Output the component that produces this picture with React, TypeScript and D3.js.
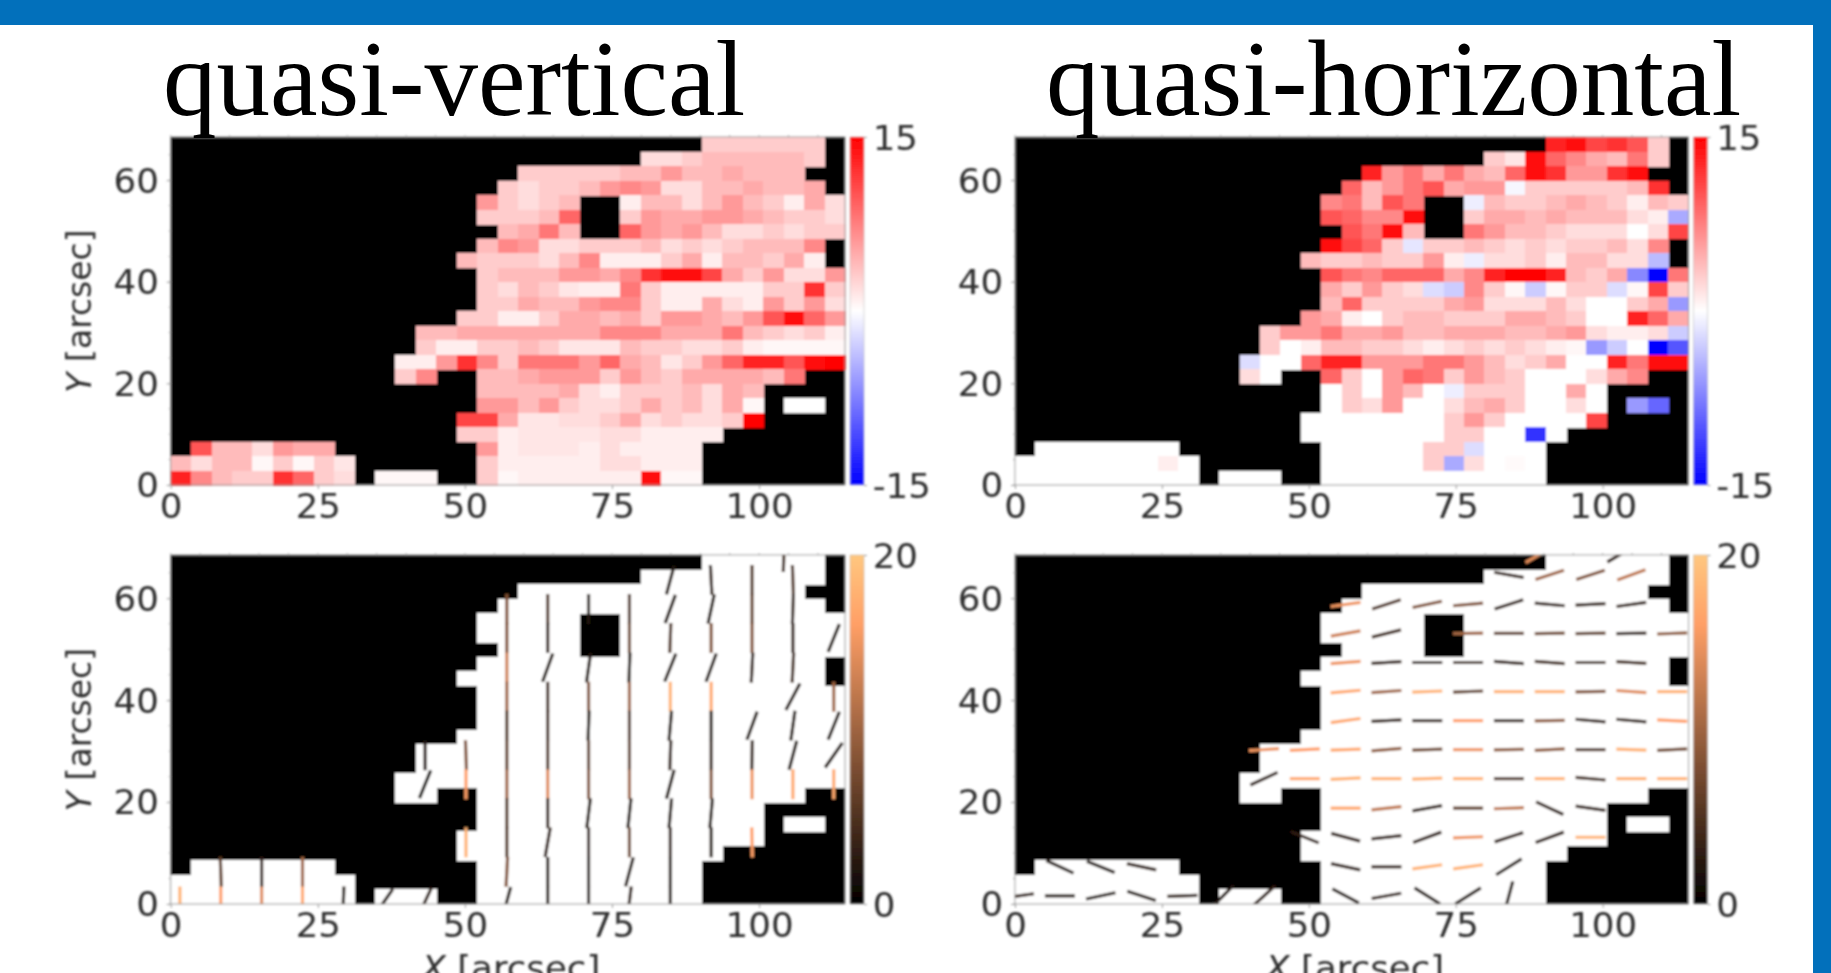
import React, { useRef, useEffect } from 'react';
import * as d3 from 'd3';

const xTicks = [0, 25, 50, 75, 100];
const yTicks = [0, 20, 40, 60];
const xMax = 114.6;
const yMax = 68.5;
const nCols = 33;
const nRows = 24;

// each row (top to bottom) is a list of [first column, values] runs, anything else is masked
const verticalField: [number, number[]][][] = [
  [[26, [3, 3, 3, 3, 3, 3]]],
  [[23, [2, 2, 3, 4, 4, 4, 4, 4, 3]]],
  [[17, [3, 3, 3, 3, 3, 4, 4, 6, 4, 4, 5, 4, 4, 4]]],
  [[16, [3, 2, 3, 3, 4, 6, 7, 6, 2, 2, 4, 4, 5, 4, 4, 5]]],
  [[15, [6, 3, 2, 3, 4]], [22, [1, 4, 4, 2, 4, 6, 4, 3, 1, 5, 2]]],
  [[15, [3, 3, 3, 4, 9]], [22, [3, 6, 5, 5, 6, 6, 5, 4, 3, 3, 2]]],
  [[16, [4, 5, 8, 4]], [22, [9, 6, 5, 6, 4, 2, 2, 3, 2, 3, 3]]],
  [[15, [4, 7, 6, 2, 2, 3, 3, 3, 4, 2, 3, 2, 3, 4, 4, 4, 7]]],
  [[14, [4, 3, 3, 3, 2, 4, 7, 1, 1, 1, 3, 5, 1, 4, 4, 3, 5, 1]]],
  [[15, [3, 4, 4, 4, 6, 6, 5, 7, 12, 14, 14, 11, 5, 3, 6, 2, 2, 6]]],
  [[15, [3, 2, 4, 3, 1.5, 1, 1, 8, 3, 1, 1, 1, 1, 1, 3, 3, 12, 3]]],
  [[15, [3, 3, 5, 4, 4, 6, 7, 7, 3, 1, 1, 5, 2, 1, 6, 3, 6, 2]]],
  [[14, [3, 3, 1, 1, 3, 5, 5, 4, 5, 3, 6, 6, 5, 4, 6, 10, 14, 9, 6]]],
  [[12, [4, 4, 5, 5, 5, 5, 5, 5, 5, 7, 7, 7, 5, 5, 5, 8, 4, 3, 2, 3, 1]]],
  [[12, [3, 1, 1, 3, 3, 4, 3, 1.5, 1.5, 1.5, 4, 3, 3, 2, 2, 3, 1, 0.5, 0.5, 0.5, 0.5]]],
  [[11, [1, 1, 6, 12, 7, 3, 8, 8, 8, 6, 9, 5, 4, 1.5, 3, 6, 9, 13, 13, 10, 14, 15]]],
  [[11, [3, 7]], [15, [4, 4, 5, 6, 6, 6, 3, 6, 4, 3, 5, 5, 5, 5, 4, 8]]],
  [[15, [4, 4, 4, 4, 5, 2, 1, 3, 3, 3, 4, 2, 5, 4]]],
  [[15, [6, 6, 4, 6, 3, 2, 2, 3, 5, 3, 4, 2, 5, 0.5]], [30, [0, 0]]],
  [[14, [11, 11, 5, 1.5, 1.5, 2, 2, 3, 5, 2, 3, 2, 2, 3, 15]]],
  [[14, [3, 3, 1, 1.5, 1.5, 1.5, 1.5, 2, 2, 1, 1, 1, 1]]],
  [[1, [10, 4, 4, 2, 6, 5, 5]], [15, [6, 1, 1.5, 1.5, 1.5, 1, 2, 1, 1, 1, 1]]],
  [[0, [4, 2, 4, 4, 0.5, 3, 0.5, 3, 1.5]], [15, [3, 1, 1, 1, 1, 1, 2, 2, 1, 1, 1]]],
  [[0, [13, 7, 4, 3, 3, 12, 9, 3, 2]], [10, [0.5, 0.5, 0.5]], [15, [3, 0.5, 1, 1, 1, 1, 1, 1, 14, 0.5, 0.5]]],
];

const horizontalField: [number, number[]][][] = [
  [[26, [13, 14, 11, 12, 10, 3]]],
  [[23, [3, 1.5, 14, 9, 7, 5, 4, 8, 3]]],
  [[17, [13, 6, 8, 5, 8, 5, 4, 9, 14, 12, 6, 6, 12, 14]]],
  [[16, [9, 4, 6, 8, 10, 5, 6, 6, -0.5, 3, 3, 3, 3, 3, 4, 12]]],
  [[15, [7, 8, 4, 10, 8]], [22, [-1, 4, 3, 3, 4, 5, 4, 3, 1, 4, 3]]],
  [[15, [10, 9, 7, 7, 14]], [22, [3, 5, 5, 4, 5, 4, 4, 4, 2, 1, -5]]],
  [[16, [10, 8, 14, 4]], [22, [8, 6, 4, 4, 3, 2, 2, 2, 0, 2, 11]]],
  [[15, [14, 11, 9, 3, -1.5, 3, 3, 4, 3, 2, 3, 2, 3, 3, 4, 2, 7]]],
  [[14, [4, 3, 3, 4, 3, 3, 6, 1, -1, 2, 2, 3, 1, 4, 4, 2, 2, -4]]],
  [[15, [10, 8, 7, 9, 9, 9, 5, 7, 13, 15, 15, 13, 4, 3, 5, -7, -15, 8]]],
  [[15, [5, 3, 6, 3, 2, -2, -3, 7, 3, 0.5, -3, 0.5, 3, 3, -2, 0.5, 11, 3]]],
  [[15, [4, 9, 3, 3, 3, 3, 5, 6, 2, 2, 2, 4, 2, 0, 0, 3, 5, -6]]],
  [[14, [6, 5, 1, 0, 3, 4, 4, 3, 3, 3, 5, 5, 4, 3, 0, 0, 13, 9, 5]]],
  [[12, [3, 6, 6, 8, 5, 5, 6, 4, 4, 5, 5, 5, 4, 4, 5, 6, 2, 1, 1, 2, -3]]],
  [[12, [3, 0, 1, 4, 4, 3, 3, 2, 1, 2, 3, 2, 3, 2, 1, 0.5, -6, -3, 0, -15, -10]]],
  [[11, [-2, 0, 0, 9, 13, 13, 6, 6, 6, 8, 8, 6, 4, 2, 3, 5, 0, 0, 13, 8, 14, 14]]],
  [[11, [2, 0]], [15, [9, 3, 0, 6, 9, 8, 3, 6, 4, 3, 0, 0, 0, 2, 5, 7]]],
  [[15, [0, 3, 0, 6, 4, 0, -1, 3, 3, 3, 0, 0, 5, 0]]],
  [[15, [0, 3, 2, 6, 0, 0, 2, 4, 5, 3, 0, 0, 2, 0]], [30, [-6, -9]]],
  [[14, [0, 0, 0, 0, 0, 0, 0, 3, 6, 3, 0, 0, 0, 0, 11]]],
  [[14, [0, 0, 0, 0, 0, 0, 0, 3, 3, 0, 0, -12, 0]]],
  [[1, [0, 0, 0, 0, 0, 0, 0]], [15, [0, 0, 0, 0, 0, 3, 3, -2, 0, 0, 0]]],
  [[0, [0, 0, 0, 0, 0, 0, 0, 1, 0]], [15, [0, 0, 0, 0, 0, 3, -5, 2, 0, 0.3, 0]]],
  [[0, [0, 0, 0, 0, 0, 0, 0, 0, 0]], [10, [0, 0, 0]], [15, [0, 0, 0, 0, 0, 0, 0, 0, 0, 0, 0]]],
];

// y of the vector rows, arcsec
const verticalRowY = [63.6, 57.9, 52.2, 46.4, 40.7, 35, 29.2, 23.5, 17.8, 12.1, 6.3, 0.5];
const horizontalRowY = [64.6, 58.8, 53.1, 47.4, 41.7, 36, 30.3, 24.6, 18.8, 13.1, 7.3, 1.6];

// [column slot, row slot, tilt from vertical in degrees, magnitude]
const verticalVectors: number[][] = [
  [12, 0, 15, 2], [13, 0, -3, 3], [14, 0, 0, 5], [15, 0, -2, 5],
  [8, 1, 0, 8], [9, 1, 0, 5], [10, 1, 0, 2], [11, 1, 0, 5], [12, 1, 20, 2], [13, 1, 12, 2], [14, 1, 0, 6], [15, 1, 2, 3],
  [8, 2, 0, 8], [9, 2, 0, 3], [11, 2, 0, 7], [12, 2, 2, 5], [13, 2, 0, 8], [14, 2, 0, 8], [15, 2, 0, 3], [16, 2, 22, 2],
  [8, 3, 0, 13], [9, 3, 20, 2], [10, 3, 8, 2], [11, 3, 2, 2], [12, 3, 22, 2], [13, 3, 20, 2], [14, 3, 3, 3], [15, 3, 3, 4],
  [8, 4, 0, 10], [9, 4, 0, 4], [10, 4, 0, 8], [11, 4, 0, 10], [12, 4, 0, 18], [13, 4, 0, 17], [15, 4, 28, 2], [16, 4, 0, 10],
  [8, 5, 0, 5], [9, 5, 0, 4], [10, 5, 2, 2], [11, 5, 0, 5], [12, 5, 5, 2], [13, 5, 0, 2], [14, 5, 20, 2], [15, 5, 8, 2], [16, 5, 22, 2],
  [6, 6, 0, 2], [7, 6, -2, 8], [8, 6, 0, 6], [9, 6, 0, 5], [10, 6, 0, 6], [11, 6, 0, 6], [12, 6, 2, 3], [13, 6, 0, 3], [14, 6, 1, 3], [15, 6, 15, 2], [16, 6, 35, 2],
  [6, 7, 22, 1], [7, 7, 0, 16], [8, 7, 0, 10], [9, 7, 0, 14], [10, 7, 0, 8], [11, 7, 0, 10], [12, 7, 15, 2], [13, 7, 0, 8], [14, 7, 0, 15], [15, 7, 0, 17], [16, 7, 0, 17],
  [8, 8, 0, 5], [9, 8, 0, 3], [10, 8, 7, 2], [11, 8, 6, 2], [12, 8, 5, 2], [13, 8, 5, 2],
  [7, 9, 0, 18], [8, 9, 0, 5], [9, 9, 10, 3], [10, 9, 0, 3], [11, 9, 0, 7], [12, 9, 0, 3], [13, 9, 0, 2], [14, 9, -1, 16],
  [1, 10, -2, 6], [2, 10, 0, 3], [3, 10, 0, 10], [8, 10, 3, 8], [9, 10, 0, 2], [10, 10, 0, 2], [11, 10, 15, 2], [12, 10, 0, 2],
  [0, 11, 0, 18], [1, 11, 0, 16], [2, 11, 0, 14], [3, 11, 0, 17], [4, 11, 2, 2], [5, 11, 35, 2], [6, 11, 25, 3],
  [8, 11, 15, 2], [9, 11, 0, 2], [10, 11, 0, 2], [11, 11, 7, 3], [12, 11, 0, 2],
];
const verticalExtras: number[][] = [[104.2, 68.1, 2, 4]];

// [column slot, row slot, angle from horizontal in degrees, magnitude]
const horizontalVectors: number[][] = [
  [12, 0, -10, 3], [13, 0, 18, 10], [14, 0, 18, 8], [15, 0, 20, 12],
  [8, 1, 8, 15], [9, 1, 18, 5], [10, 1, 12, 8], [11, 1, 5, 8], [12, 1, 18, 3], [13, 1, -5, 3], [14, 1, 3, 3], [15, 1, 8, 3],
  [8, 2, 10, 13], [9, 2, 14, 4], [11, 2, 1, 10], [12, 2, 0, 6], [13, 2, 1, 7], [14, 2, 1, 6], [15, 2, 1, 3], [16, 2, 2, 9],
  [8, 3, 4, 15], [9, 3, 3, 3], [10, 3, 0, 3], [11, 3, 0, 4], [12, 3, -4, 3], [13, 3, -4, 4], [14, 3, 0, 4], [15, 3, -3, 4],
  [8, 4, 5, 17], [9, 4, 4, 10], [10, 4, 2, 18], [11, 4, 2, 6], [12, 4, 0, 18], [13, 4, 0, 18], [14, 4, 1, 8], [15, 4, -4, 14], [16, 4, 0, 18],
  [8, 5, 8, 17], [9, 5, 3, 3], [10, 5, 0, 3], [11, 5, 0, 16], [12, 5, 0, 3], [13, 5, 1, 9], [14, 5, -5, 3], [15, 5, -5, 3], [16, 5, -3, 16],
  [6, 6, 4, 15], [7, 6, 3, 16], [8, 6, 2, 17], [9, 6, 5, 9], [10, 6, 2, 7], [11, 6, 0, 15], [12, 6, 1, 9], [13, 6, 3, 9], [14, 6, 0, 5], [15, 6, -2, 18], [16, 6, 3, 7],
  [6, 7, 25, 3], [7, 7, 0, 17], [8, 7, 3, 18], [9, 7, 0, 18], [10, 7, 2, 18], [11, 7, 0, 18], [12, 7, 0, 5], [13, 7, 0, 18], [14, 7, -5, 4], [15, 7, 0, 18], [16, 7, 0, 18],
  [8, 8, 0, 17], [9, 8, 6, 12], [10, 8, 10, 3], [11, 8, 0, 6], [12, 8, 2, 12], [13, 8, -25, 3], [14, 8, -8, 3],
  [7, 9, -22, 3], [8, 9, -15, 3], [9, 9, 6, 3], [10, 9, 20, 3], [11, 9, 2, 15], [12, 9, 18, 3], [13, 9, 20, 3], [14, 9, 0, 18],
  [1, 10, -25, 2], [2, 10, -22, 2], [3, 10, -12, 3], [8, 10, -12, 3], [9, 10, 0, 3], [10, 10, 8, 18], [11, 10, 8, 18], [12, 10, 32, 2],
  [0, 11, 8, 3], [1, 11, 0, 2], [2, 11, 12, 2], [3, 11, -18, 2], [4, 11, 2, 3], [5, 11, 45, 2], [6, 11, 42, 3],
  [8, 11, -28, 2], [9, 11, 10, 3], [10, 11, -32, 2], [11, 11, 32, 2], [12, 11, 75, 2],
];
const horizontalExtras: number[][] = [[89.1, 68.5, 30, 14], [103, 68.6, 30, 3]];

const dxCell = xMax / nCols;
const dyCell = yMax / nRows;
const vectorLength = 30;

const bwr = d3.scaleLinear<string>().domain([-15, 0, 15]).range(['#0000ff', '#ffffff', '#ff0000']).clamp(true);
// matplotlib copper
const copper = (v: number) => {
  const t = Math.max(0, Math.min(1, v / 20));
  return d3.rgb(255 * Math.min(1, 1.25 * t), 199 * t, 127 * t).formatRgb();
};

const tickFont = 'DejaVu Sans';
const stretch = 'scale(1.08,1)';
const inkColor = '#2e2e2e';

const drawPanel = (root, cfg) => {
  const { left, right, top, bottom, field, barScale, barLabels, barId, mono, vectors, extras, rowY, slotOffset, isTilt, showXLabel, clipId } = cfg;
  const x = d3.scaleLinear().domain([0, xMax]).range([left, right]);
  const y = d3.scaleLinear().domain([0, yMax]).range([bottom, top]);
  const g = root.append('g');

  g.append('rect').attr('x', left).attr('y', top).attr('width', right - left).attr('height', bottom - top).attr('fill', '#000');

  const cells: { c: number; r: number; v: number }[] = [];
  field.forEach((runs, r) => {
    runs.forEach(([start, values]) => {
      values.forEach((v, i) => cells.push({ c: start + i, r, v }));
    });
  });
  // crisp edges so neighbouring cells leave no seams
  g.selectAll('rect.cell')
    .data(cells)
    .enter()
    .append('rect')
    .attr('class', 'cell')
    .attr('x', d => x(d.c * dxCell))
    .attr('y', d => y(yMax - d.r * dyCell))
    .attr('width', x(dxCell) - x(0) + 0.5)
    .attr('height', y(0) - y(dyCell) + 0.5)
    .attr('shape-rendering', 'crispEdges')
    .attr('fill', d => (mono ? '#fff' : bwr(d.v)));

  // vectors
  if (vectors) {
    const clip = g.append('clipPath').attr('id', clipId);
    clip.append('rect').attr('x', left).attr('y', top).attr('width', right - left + 6).attr('height', bottom - top);
    const segs = vectors
      .map(([k, t, a, m]) => ({ xv: (slotOffset + 2 * k) * dxCell, yv: rowY[t], a, m }))
      .concat(extras.map(([xv, yv, a, m]) => ({ xv, yv, a, m })));
    const rad = d => ((isTilt ? 90 - d.a : d.a) * Math.PI) / 180;
    g.append('g')
      .attr('clip-path', `url(#${clipId})`)
      .selectAll('line')
      .data(segs)
      .enter()
      .append('line')
      .attr('x1', d => x(d.xv) - (vectorLength / 2) * Math.cos(rad(d)))
      .attr('x2', d => x(d.xv) + (vectorLength / 2) * Math.cos(rad(d)))
      .attr('y1', d => y(d.yv) + (vectorLength / 2) * Math.sin(rad(d)))
      .attr('y2', d => y(d.yv) - (vectorLength / 2) * Math.sin(rad(d)))
      .attr('stroke', d => copper(d.m))
      .attr('stroke-width', 3.2);
  }

  // frame
  g.append('rect')
    .attr('x', left).attr('y', top).attr('width', right - left).attr('height', bottom - top)
    .attr('fill', 'none').attr('stroke', '#999').attr('stroke-width', 1);

  // axes
  const xAxis = g.append('g')
    .attr('transform', `translate(0, ${bottom})`)
    .call(d3.axisBottom(x).tickValues(xTicks).tickSize(4));
  xAxis.select('.domain').remove();
  xAxis.selectAll('line').attr('stroke', '#999');
  xAxis.selectAll('text')
    .attr('y', 33).attr('dy', 0)
    .attr('transform', stretch)
    .attr('font-family', tickFont).attr('font-size', 33).attr('fill', inkColor);

  const yAxis = g.append('g')
    .attr('transform', `translate(${left}, 0)`)
    .call(d3.axisLeft(y).tickValues(yTicks).tickSize(4));
  yAxis.select('.domain').remove();
  yAxis.selectAll('line').attr('stroke', '#999');
  yAxis.selectAll('text')
    .attr('x', -11).attr('dy', '0.36em')
    .attr('transform', stretch)
    .attr('font-family', tickFont).attr('font-size', 33).attr('fill', inkColor);

  // small ticks along every side
  const minorX = d3.range(0, xMax, 5);
  const minorY = d3.range(0, yMax, 5);
  g.selectAll('line.minor-x')
    .data(minorX)
    .enter()
    .append('line')
    .attr('x1', d => x(d)).attr('x2', d => x(d))
    .attr('y1', top - 2).attr('y2', top)
    .attr('stroke', '#aaa');
  g.selectAll('line.minor-y')
    .data(minorY)
    .enter()
    .append('line')
    .attr('x1', left - 2).attr('x2', left)
    .attr('y1', d => y(d)).attr('y2', d => y(d))
    .attr('stroke', '#aaa');

  // colour bar
  const barLeft = right + 5;
  const barWidth = 14;
  g.append('rect')
    .attr('x', barLeft).attr('y', top).attr('width', barWidth).attr('height', bottom - top)
    .attr('fill', `url(#${barId})`).attr('stroke', '#bbb').attr('stroke-width', 0.6);
  const barAxisScale = d3.scaleLinear().domain(barScale).range([bottom, top]);
  const barAxis = g.append('g')
    .attr('transform', `translate(${barLeft + barWidth}, 0)`)
    .call(d3.axisRight(barAxisScale).tickValues(barLabels).tickSize(3).tickFormat(d => String(d)));
  barAxis.select('.domain').remove();
  barAxis.selectAll('line').attr('stroke', '#999');
  barAxis.selectAll('text')
    .attr('x', 8).attr('dy', '0.39em')
    .attr('transform', stretch)
    .attr('font-family', tickFont).attr('font-size', 33).attr('fill', inkColor);

  // axis titles
  const yTitle = g.append('text')
    .attr('transform', `translate(91, ${(top + bottom) / 2}) rotate(-90)`)
    .attr('text-anchor', 'middle')
    .attr('font-family', tickFont).attr('font-size', 33).attr('fill', inkColor);
  if (cfg.showYLabel) {
    yTitle.append('tspan').attr('font-style', 'italic').text('Y');
    yTitle.append('tspan').text(' [arcsec]');
  }
  if (showXLabel) {
    const xTitle = g.append('text')
      .attr('transform', `translate(${(left + right) / 2 + 3}, 980) ${stretch}`)
      .attr('text-anchor', 'middle')
      .attr('font-family', tickFont).attr('font-size', 33).attr('fill', inkColor);
    xTitle.append('tspan').attr('font-style', 'italic').text('X');
    xTitle.append('tspan').text(' [arcsec]');
  }
};

const App = () => {
  const svgRef = useRef(null);

  useEffect(() => {
    const svg = d3.select(svgRef.current);
    svg.selectAll('*').remove();

    svg.append('rect').attr('width', 1831).attr('height', 973).attr('fill', '#fff');

    const defs = svg.append('defs');
    defs.append('filter')
      .attr('id', 'soft')
      .attr('filterUnits', 'userSpaceOnUse')
      .attr('x', 0).attr('y', 0).attr('width', 1831).attr('height', 973)
      .append('feGaussianBlur')
      .attr('stdDeviation', 0.85);

    const bwrGrad = defs.append('linearGradient').attr('id', 'bar-bwr').attr('x1', 0).attr('x2', 0).attr('y1', 1).attr('y2', 0);
    [-15, 0, 15].forEach((v, i) => {
      bwrGrad.append('stop').attr('offset', i / 2).attr('stop-color', bwr(v));
    });
    const copperGrad = defs.append('linearGradient').attr('id', 'bar-copper').attr('x1', 0).attr('x2', 0).attr('y1', 1).attr('y2', 0);
    [0, 5, 10, 16, 20].forEach(v => {
      copperGrad.append('stop').attr('offset', v / 20).attr('stop-color', copper(v));
    });

    const plots = svg.append('g').attr('filter', 'url(#soft)');

    const leftCol = { left: 170.7, right: 845 };
    const rightCol = { left: 1015, right: 1688.5 };
    const topRow = { top: 137, bottom: 485 };
    const bottomRow = { top: 555, bottom: 904 };

    drawPanel(plots, {
      ...leftCol, ...topRow, field: verticalField, barScale: [-15, 15], barLabels: [-15, 15], barId: 'bar-bwr', showYLabel: true,
    });
    drawPanel(plots, {
      ...rightCol, ...topRow, field: horizontalField, barScale: [-15, 15], barLabels: [-15, 15], barId: 'bar-bwr',
    });
    drawPanel(plots, {
      ...leftCol, ...bottomRow, field: verticalField, mono: true, barScale: [0, 20], barLabels: [0, 20], barId: 'bar-copper',
      vectors: verticalVectors, extras: verticalExtras, rowY: verticalRowY, slotOffset: 0.45, isTilt: true,
      clipId: 'clip-v', showXLabel: true, showYLabel: true,
    });
    drawPanel(plots, {
      ...rightCol, ...bottomRow, field: horizontalField, mono: true, barScale: [0, 20], barLabels: [0, 20], barId: 'bar-copper',
      vectors: horizontalVectors, extras: horizontalExtras, rowY: horizontalRowY, slotOffset: 0.2, isTilt: false,
      clipId: 'clip-h', showXLabel: true,
    });

    // slide frame and headings
    svg.append('rect').attr('width', 1831).attr('height', 25).attr('fill', '#0270bb');
    svg.append('rect').attr('x', 1813).attr('width', 18).attr('height', 973).attr('fill', '#0270bb');
    svg.append('text').attr('x', 163).attr('y', 115)
      .attr('font-family', 'Liberation Serif').attr('font-size', 107).attr('fill', '#000')
      .text('quasi-vertical');
    svg.append('text').attr('x', 1046).attr('y', 115)
      .attr('font-family', 'Liberation Serif').attr('font-size', 107).attr('fill', '#000')
      .text('quasi-horizontal');
  }, []);

  return <svg ref={svgRef} width={1831} height={973} style={{ position: 'absolute', left: 0, top: 0 }} />;
};

export default App;
